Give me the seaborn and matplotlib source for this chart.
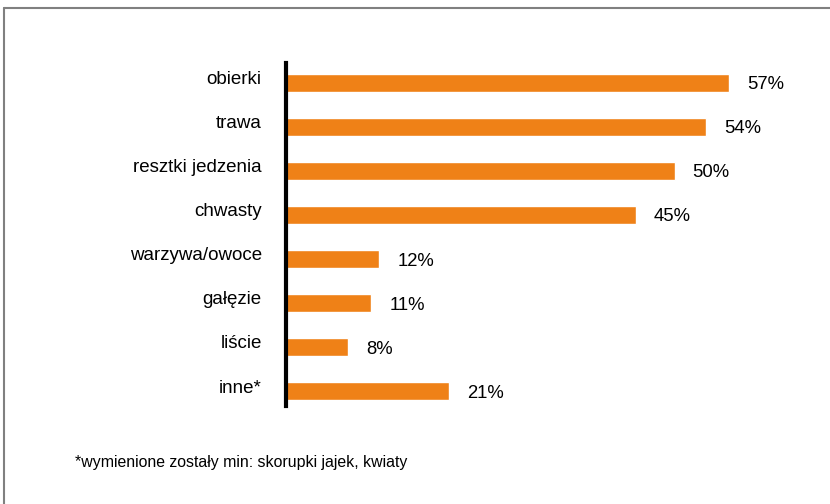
import numpy as np
import pandas as pd
from matplotlib import pyplot as plt
from matplotlib.lines import Line2D
from matplotlib.transforms import ScaledTranslation
import seaborn as sns

categories = ['obierki', 'trawa', 'resztki jedzenia', 'chwasty',
              'warzywa/owoce', 'gałęzie', 'liście', 'inne*']
values = [57, 54, 50, 45, 12, 11, 8, 21]
footnote = '*wymienione zostały min: skorupki jajek, kwiaty'

sns.set_style('white')
plt.rcParams['font.family'] = ['Liberation Sans', 'DejaVu Sans']
plt.rcParams['text.color'] = 'black'
plt.rcParams['ytick.color'] = 'black'

df = pd.DataFrame({'kategoria': categories, 'procent': values})

fig = plt.figure(figsize=(8.3, 5.04), dpi=100)
ax = fig.add_axes([286 / 830, 1 - 406 / 504, (830 - 286) / 830, (406 - 63) / 504])
sns.barplot(data=df, x='procent', y='kategoria', orient='h', color='#EF8117',
            saturation=1, width=0.41, ax=ax)

ax.set_xlim(0, 70)
ax.set_ylim(7.34, -0.45)
ax.set_xlabel('')
ax.set_ylabel('')
ax.set_xticks([])
for s in ['top', 'right', 'bottom']:
    ax.spines[s].set_visible(False)
ax.spines['left'].set_linewidth(3)
ax.spines['left'].set_color('black')
ax.tick_params(axis='y', length=0, pad=17.5, labelsize=13.5, labelcolor='black')
# category labels sit a little above the bar centre
shift = ScaledTranslation(0, 5 / 100, fig.dpi_scale_trans)
for lab in ax.get_yticklabels():
    lab.set_transform(lab.get_transform() + shift)

for i, v in enumerate(values):
    ax.annotate(f'{v}%', xy=(v, i), xytext=(13, -1.5), textcoords='offset points',
                va='center', ha='left', fontsize=13.3, color='black')

fig.text(75 / 830, 1 - 463 / 504, footnote, fontsize=11.4, va='center', ha='left')

# frame lines at top and left of the picture
fig.add_artist(Line2D([4 / 830, 1], [1 - 8 / 504, 1 - 8 / 504], color='#808080', lw=1.5))
fig.add_artist(Line2D([4 / 830, 4 / 830], [0, 1 - 8 / 504], color='#808080', lw=1.5))

fig.savefig('out.png', dpi=100)
